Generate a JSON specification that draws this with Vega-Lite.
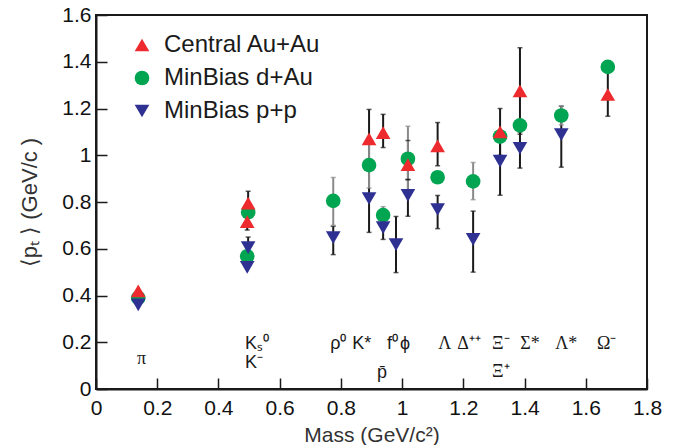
{
  "$schema": "https://vega.github.io/schema/vega-lite/v6.json",
  "autosize": "none",
  "width": 551,
  "height": 374,
  "padding": {"left": 96, "top": 15, "right": 37, "bottom": 56},
  "background": "white",
  "config": {
    "view": {"stroke": "#1a1a1a", "strokeWidth": 2},
    "axis": {"labelFont": "Liberation Sans", "titleFont": "Liberation Sans", "labelColor": "#111", "titleColor": "#333", "grid": false, "domainColor": "#1a1a1a", "domainWidth": 2, "tickColor": "#1a1a1a", "tickWidth": 1.5}
  },
  "datasets": {
    "pts": [
      {"series": "MinBias d+Au", "mass": 0.138, "v": 0.39, "lo": null, "hi": null},
      {"series": "MinBias d+Au", "mass": 0.497, "v": 0.756, "lo": null, "hi": null},
      {"series": "MinBias d+Au", "mass": 0.494, "v": 0.568, "lo": null, "hi": null},
      {"series": "MinBias d+Au", "mass": 0.775, "v": 0.805, "lo": 0.7, "hi": 0.905},
      {"series": "MinBias d+Au", "mass": 0.892, "v": 0.958, "lo": 0.86, "hi": 1.06},
      {"series": "MinBias d+Au", "mass": 0.938, "v": 0.744, "lo": 0.71, "hi": 0.78},
      {"series": "MinBias d+Au", "mass": 1.019, "v": 0.985, "lo": 0.85, "hi": 1.124},
      {"series": "MinBias d+Au", "mass": 1.116, "v": 0.906, "lo": null, "hi": null},
      {"series": "MinBias d+Au", "mass": 1.232, "v": 0.888, "lo": 0.81, "hi": 0.969},
      {"series": "MinBias d+Au", "mass": 1.32, "v": 1.08, "lo": null, "hi": null},
      {"series": "MinBias d+Au", "mass": 1.385, "v": 1.128, "lo": null, "hi": null},
      {"series": "MinBias d+Au", "mass": 1.52, "v": 1.17, "lo": 1.13, "hi": 1.21},
      {"series": "MinBias d+Au", "mass": 1.672, "v": 1.378, "lo": null, "hi": null},
      {"series": "MinBias p+p", "mass": 0.138, "v": 0.36, "lo": null, "hi": null},
      {"series": "MinBias p+p", "mass": 0.497, "v": 0.605, "lo": 0.57, "hi": 0.65},
      {"series": "MinBias p+p", "mass": 0.494, "v": 0.52, "lo": null, "hi": null},
      {"series": "MinBias p+p", "mass": 0.775, "v": 0.648, "lo": 0.575, "hi": 0.696},
      {"series": "MinBias p+p", "mass": 0.892, "v": 0.815, "lo": 0.67, "hi": 0.95},
      {"series": "MinBias p+p", "mass": 0.938, "v": 0.69, "lo": 0.64, "hi": 0.745},
      {"series": "MinBias p+p", "mass": 0.98, "v": 0.618, "lo": 0.498, "hi": 0.738},
      {"series": "MinBias p+p", "mass": 1.019, "v": 0.828, "lo": 0.739, "hi": 0.896},
      {"series": "MinBias p+p", "mass": 1.116, "v": 0.768, "lo": 0.686, "hi": 0.828},
      {"series": "MinBias p+p", "mass": 1.232, "v": 0.64, "lo": 0.5, "hi": 0.761},
      {"series": "MinBias p+p", "mass": 1.32, "v": 0.975, "lo": 0.829, "hi": 1.08},
      {"series": "MinBias p+p", "mass": 1.385, "v": 1.03, "lo": 0.945, "hi": 1.1},
      {"series": "MinBias p+p", "mass": 1.52, "v": 1.088, "lo": 0.949, "hi": 1.21},
      {"series": "Central Au+Au", "mass": 0.138, "v": 0.42, "lo": null, "hi": null},
      {"series": "Central Au+Au", "mass": 0.497, "v": 0.795, "lo": 0.75, "hi": 0.846},
      {"series": "Central Au+Au", "mass": 0.494, "v": 0.716, "lo": 0.68, "hi": 0.75},
      {"series": "Central Au+Au", "mass": 0.892, "v": 1.07, "lo": 0.95, "hi": 1.196},
      {"series": "Central Au+Au", "mass": 0.938, "v": 1.097, "lo": 1.033, "hi": 1.175},
      {"series": "Central Au+Au", "mass": 1.019, "v": 0.96, "lo": 0.896, "hi": 1.063},
      {"series": "Central Au+Au", "mass": 1.116, "v": 1.04, "lo": 0.955, "hi": 1.14},
      {"series": "Central Au+Au", "mass": 1.32, "v": 1.1, "lo": 1.0, "hi": 1.2},
      {"series": "Central Au+Au", "mass": 1.385, "v": 1.275, "lo": 1.09, "hi": 1.46},
      {"series": "Central Au+Au", "mass": 1.672, "v": 1.26, "lo": 1.167, "hi": 1.354}
    ],
    "labels_sans": [
      {"x": 0.487, "y": 0.169, "t": "Kₛ⁰"},
      {"x": 0.487, "y": 0.09, "t": "K⁻"},
      {"x": 0.765, "y": 0.169, "t": "ρ⁰"},
      {"x": 0.837, "y": 0.169, "t": "K*"},
      {"x": 0.918, "y": 0.049, "t": "p̄"},
      {"x": 0.951, "y": 0.169, "t": "f⁰"},
      {"x": 0.993, "y": 0.169, "t": "ϕ"}
    ],
    "labels_serif": [
      {"x": 0.134, "y": 0.105, "t": "π"},
      {"x": 1.118, "y": 0.169, "t": "Λ"},
      {"x": 1.18, "y": 0.169, "t": "Δ⁺⁺"},
      {"x": 1.294, "y": 0.169, "t": "Ξ⁻"},
      {"x": 1.294, "y": 0.05, "t": "Ξ⁺"},
      {"x": 1.386, "y": 0.169, "t": "Σ*"},
      {"x": 1.5, "y": 0.169, "t": "Λ*"},
      {"x": 1.637, "y": 0.169, "t": "Ω⁻"}
    ]
  },
  "layer": [
    {
      "data": {"name": "pts"},
      "transform": [{"filter": "isValid(datum.lo) && datum.series !== 'MinBias d+Au'"}],
      "mark": {"type": "rule", "strokeWidth": 2, "color": "#1a1a1a"},
      "encoding": {
        "x": {"field": "mass", "type": "quantitative", "scale": {"domain": [0, 1.8], "nice": false},
          "axis": {"values": [0,0.05,0.1,0.15,0.2,0.25,0.3,0.35,0.4,0.45,0.5,0.55,0.6,0.65,0.7,0.75,0.8,0.85,0.9,0.95,1,1.05,1.1,1.15,1.2,1.25,1.3,1.35,1.4,1.45,1.5,1.55,1.6,1.65,1.7,1.75,1.8],
            "labelExpr": "abs(datum.value*5 - round(datum.value*5)) < 0.001 ? format(datum.value, '~g') : ''",
            "tickSize": {"condition": {"test": "abs(datum.value*5 - round(datum.value*5)) < 0.001", "value": -11}, "value": -6},
            "labelFontSize": 21, "labelPadding": 19, "labelFlush": false, "labelOverlap": false,
            "title": "Mass (GeV/c²)", "titleFontSize": 21, "titleFontWeight": "normal", "titlePadding": 6}},
        "y": {"field": "lo", "type": "quantitative", "scale": {"domain": [0, 1.6], "nice": false},
          "axis": {"values": [0,0.05,0.1,0.15,0.2,0.25,0.3,0.35,0.4,0.45,0.5,0.55,0.6,0.65,0.7,0.75,0.8,0.85,0.9,0.95,1,1.05,1.1,1.15,1.2,1.25,1.3,1.35,1.4,1.45,1.5,1.55,1.6],
            "labelExpr": "abs(datum.value*5 - round(datum.value*5)) < 0.001 ? format(datum.value, '~g') : ''",
            "tickSize": {"condition": {"test": "abs(datum.value*5 - round(datum.value*5)) < 0.001", "value": -11}, "value": -6},
            "labelFontSize": 21, "labelPadding": 16, "labelFlush": false, "labelOverlap": false,
            "title": "⟨pₜ ⟩ (GeV/c )", "titleFontSize": 22, "titleFontWeight": "normal", "titlePadding": 20}},
        "y2": {"field": "hi"}
      }
    },
    {
      "data": {"name": "pts"},
      "transform": [{"filter": "isValid(datum.lo) && datum.series === 'MinBias d+Au'"}],
      "mark": {"type": "rule", "strokeWidth": 2, "color": "#8a8a8a"},
      "encoding": {
        "x": {"field": "mass", "type": "quantitative"},
        "y": {"field": "lo", "type": "quantitative"},
        "y2": {"field": "hi"}
      }
    },
    {
      "data": {"name": "pts"},
      "transform": [{"filter": "isValid(datum.lo) && datum.series !== 'MinBias d+Au'"}],
      "mark": {"type": "tick", "orient": "horizontal", "size": 5, "thickness": 1.5, "color": "#1a1a1a"},
      "encoding": {
        "x": {"field": "mass", "type": "quantitative"},
        "y": {"field": "lo", "type": "quantitative"}
      }
    },
    {
      "data": {"name": "pts"},
      "transform": [{"filter": "isValid(datum.hi) && datum.series !== 'MinBias d+Au'"}],
      "mark": {"type": "tick", "orient": "horizontal", "size": 5, "thickness": 1.5, "color": "#1a1a1a"},
      "encoding": {
        "x": {"field": "mass", "type": "quantitative"},
        "y": {"field": "hi", "type": "quantitative"}
      }
    },
    {
      "data": {"name": "pts"},
      "transform": [{"filter": "isValid(datum.lo) && datum.series === 'MinBias d+Au'"}],
      "mark": {"type": "tick", "orient": "horizontal", "size": 5, "thickness": 1.5, "color": "#8a8a8a"},
      "encoding": {
        "x": {"field": "mass", "type": "quantitative"},
        "y": {"field": "lo", "type": "quantitative"}
      }
    },
    {
      "data": {"name": "pts"},
      "transform": [{"filter": "isValid(datum.hi) && datum.series === 'MinBias d+Au'"}],
      "mark": {"type": "tick", "orient": "horizontal", "size": 5, "thickness": 1.5, "color": "#8a8a8a"},
      "encoding": {
        "x": {"field": "mass", "type": "quantitative"},
        "y": {"field": "hi", "type": "quantitative"}
      }
    },
    {
      "data": {"name": "pts"},
      "mark": {"type": "point", "filled": true, "opacity": 1, "size": 215},
      "encoding": {
        "x": {"field": "mass", "type": "quantitative"},
        "y": {"field": "v", "type": "quantitative"},
        "color": {"field": "series", "type": "nominal",
          "scale": {"domain": ["Central Au+Au", "MinBias d+Au", "MinBias p+p"], "range": ["#ed2a2e", "#00a551", "#2e3192"]},
          "legend": {"orient": "none", "legendX": 34, "legendY": 18, "title": null, "labelFont": "Liberation Sans", "labelFontSize": 24, "labelColor": "#1a1a1a", "symbolSize": 215, "symbolStrokeWidth": 0, "rowPadding": 9, "labelOffset": 10, "padding": 0}},
        "shape": {"field": "series", "type": "nominal",
          "scale": {"domain": ["Central Au+Au", "MinBias d+Au", "MinBias p+p"], "range": ["triangle-up", "circle", "triangle-down"]},
          "legend": {"orient": "none", "legendX": 34, "legendY": 18, "title": null, "labelFont": "Liberation Sans", "labelFontSize": 24, "labelColor": "#1a1a1a", "symbolSize": 215, "symbolStrokeWidth": 0, "rowPadding": 9, "labelOffset": 10, "padding": 0}}
      }
    },
    {
      "data": {"name": "labels_sans"},
      "mark": {"type": "text", "align": "left", "baseline": "alphabetic", "font": "Liberation Sans", "fontSize": 18, "color": "#1a1a1a"},
      "encoding": {
        "x": {"field": "x", "type": "quantitative"},
        "y": {"field": "y", "type": "quantitative"},
        "text": {"field": "t"}
      }
    },
    {
      "data": {"name": "labels_serif"},
      "mark": {"type": "text", "align": "left", "baseline": "alphabetic", "font": "Liberation Serif", "fontSize": 18, "color": "#1a1a1a"},
      "encoding": {
        "x": {"field": "x", "type": "quantitative"},
        "y": {"field": "y", "type": "quantitative"},
        "text": {"field": "t"}
      }
    }
  ]
}
